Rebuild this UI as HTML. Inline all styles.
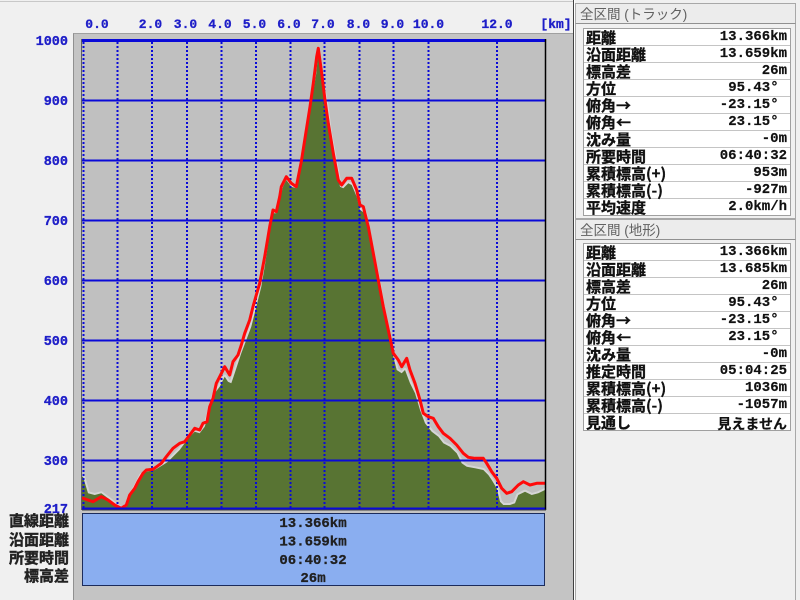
<!DOCTYPE html>
<html><head><meta charset="utf-8">
<style>
html,body{margin:0;padding:0;}
body{width:800px;height:600px;overflow:hidden;background:#f0f0f0;position:relative;font-family:"Liberation Sans","Noto Sans CJK JP",sans-serif;}
.abs{position:absolute;}
.lbl{position:absolute;right:731px;font:bold 15px "Noto Sans CJK JP","Liberation Sans",sans-serif;color:#222;line-height:18px;white-space:nowrap;text-align:right;-webkit-text-stroke:0.4px #222;}
.hdr{position:absolute;left:575px;width:221px;height:21px;border:1px solid #a8a8a8;border-bottom:1px solid #909090;background:#ececec;font:13.5px "Liberation Sans","Noto Sans CJK JP",sans-serif;color:#606060;line-height:21px;padding-left:4px;box-sizing:border-box;white-space:nowrap;}
.body{position:absolute;left:575px;width:221px;border:1px solid #a8a8a8;border-top:none;box-sizing:border-box;}
.tbl{position:absolute;left:583px;width:208px;border:1px solid #a0a0a0;background:#fff;box-sizing:border-box;}
.row{height:17px;border-bottom:1px solid #c4c4c4;position:relative;box-sizing:border-box;}
.row:last-child{border-bottom:none;height:16px;}
.l{position:absolute;left:2px;top:0;font:bold 15px "Noto Sans CJK JP","Liberation Sans",sans-serif;line-height:17px;color:#111;white-space:nowrap;-webkit-text-stroke:0.35px #111;}
.v{position:absolute;right:3px;top:0;font:bold 14px "Liberation Mono","Noto Sans CJK JP",monospace;line-height:17px;color:#111;white-space:pre;-webkit-text-stroke:0.2px #111;}
.vj{font:bold 14px "Noto Sans CJK JP","Liberation Sans",sans-serif;}
svg text{stroke-width:0.3px;}
</style></head><body>
<div class="abs" style="left:0;top:1px;width:573px;height:1px;background:#c8c8c8;"></div>
<div class="abs" style="left:73px;top:33px;width:500px;height:567px;background:#c4c4c4;border-left:1px solid #909090;border-top:1px solid #a0a0a0;box-sizing:border-box;"></div>
<svg class="abs" style="left:0;top:0" width="573" height="600" viewBox="0 0 573 600" xmlns="http://www.w3.org/2000/svg">
  <defs><clipPath id="pc"><rect x="82" y="39" width="463" height="471"/></clipPath></defs>
  <rect x="82" y="39" width="463" height="471" fill="#c0c0c0"/>
  <line x1="81.5" y1="39" x2="81.5" y2="510" stroke="#606060" stroke-width="1"/>
  <g clip-path="url(#pc)">
    <polygon fill="#587433" stroke="#d6d6d6" stroke-width="4" stroke-linejoin="round" points="83,476.7 88,493.3 94.7,495 101.3,493.3 108,498.3 116.3,505 121.3,508.3 126.3,506.7 129.7,496.7 136.3,485 141.3,475 146.3,471.7 154.7,470 163,465 168,461.7 174.7,455 179.7,450 184.7,443.3 189.7,436.7 194.7,431.7 199.7,433.3 204.7,426.7 208,416.7 211.3,403.3 214.7,393.3 219.7,386.7 224.7,376.7 228,381.7 231.3,383.3 234.7,373.3 238,363.3 241.3,353.3 246.3,340 251.3,326.7 254.7,313.3 258,300 261.3,286.7 264.7,266.7 269.7,233.3 273,213.3 276.3,213.3 279.7,200 283,186.7 286.3,180 291.3,186.7 296.3,188.3 301.3,166.7 306.3,136.7 311.3,103.3 316.3,73.3 318,55 321.7,80 326.7,106.7 330,133.3 335,160 340,186.7 343.3,188.3 348.3,183.3 351.7,185 356.7,196.7 360,210 365,213.3 368.3,230 373.3,256.7 378.3,280 383.3,310 388.3,333.3 393.3,356.7 396.7,370 401.7,373.3 405,370 410,383.3 415,393.3 420,410 425,423.3 431.7,431.7 438.3,436.7 443.3,443.3 450,446.7 456.7,453.3 461.7,463.3 466.7,466.7 475,468.3 483.3,470 488.3,475 491.7,480 496.7,488.3 500,501.7 503.3,505 510,505 515,503.3 518.3,495 525,491.7 531.7,495 538.3,493.3 545,490 547,490 547,515 80,515 80,476.7"/>
    <polygon fill="#587433" points="83,476.7 88,493.3 94.7,495 101.3,493.3 108,498.3 116.3,505 121.3,508.3 126.3,506.7 129.7,496.7 136.3,485 141.3,475 146.3,471.7 154.7,470 163,465 168,461.7 174.7,455 179.7,450 184.7,443.3 189.7,436.7 194.7,431.7 199.7,433.3 204.7,426.7 208,416.7 211.3,403.3 214.7,393.3 219.7,386.7 224.7,376.7 228,381.7 231.3,383.3 234.7,373.3 238,363.3 241.3,353.3 246.3,340 251.3,326.7 254.7,313.3 258,300 261.3,286.7 264.7,266.7 269.7,233.3 273,213.3 276.3,213.3 279.7,200 283,186.7 286.3,180 291.3,186.7 296.3,188.3 301.3,166.7 306.3,136.7 311.3,103.3 316.3,73.3 318,55 321.7,80 326.7,106.7 330,133.3 335,160 340,186.7 343.3,188.3 348.3,183.3 351.7,185 356.7,196.7 360,210 365,213.3 368.3,230 373.3,256.7 378.3,280 383.3,310 388.3,333.3 393.3,356.7 396.7,370 401.7,373.3 405,370 410,383.3 415,393.3 420,410 425,423.3 431.7,431.7 438.3,436.7 443.3,443.3 450,446.7 456.7,453.3 461.7,463.3 466.7,466.7 475,468.3 483.3,470 488.3,475 491.7,480 496.7,488.3 500,501.7 503.3,505 510,505 515,503.3 518.3,495 525,491.7 531.7,495 538.3,493.3 545,490 547,490 547,515 80,515 80,476.7"/>
    <g stroke="#0a0ad8" stroke-width="2">
      <line x1="82" y1="100.5" x2="545" y2="100.5"/>
      <line x1="82" y1="160.5" x2="545" y2="160.5"/>
      <line x1="82" y1="220.5" x2="545" y2="220.5"/>
      <line x1="82" y1="280.5" x2="545" y2="280.5"/>
      <line x1="82" y1="340.5" x2="545" y2="340.5"/>
      <line x1="82" y1="400.5" x2="545" y2="400.5"/>
      <line x1="82" y1="460.5" x2="545" y2="460.5"/>
    </g>
    <g stroke="#0a0ad8" stroke-width="2" stroke-dasharray="2 2">
      <line x1="83.5" y1="42" x2="83.5" y2="509"/>
      <line x1="117.5" y1="42" x2="117.5" y2="509"/>
      <line x1="152" y1="42" x2="152" y2="509"/>
      <line x1="187" y1="42" x2="187" y2="509"/>
      <line x1="221.5" y1="42" x2="221.5" y2="509"/>
      <line x1="256" y1="42" x2="256" y2="509"/>
      <line x1="290.5" y1="42" x2="290.5" y2="509"/>
      <line x1="324.5" y1="42" x2="324.5" y2="509"/>
      <line x1="359.5" y1="42" x2="359.5" y2="509"/>
      <line x1="393.5" y1="42" x2="393.5" y2="509"/>
      <line x1="428.5" y1="42" x2="428.5" y2="509"/>
      <line x1="497" y1="42" x2="497" y2="509"/>
    </g>
    <polyline fill="none" stroke="#ff0a0a" stroke-width="3" stroke-linejoin="round" stroke-linecap="round" points="83,498.3 93,501.7 101.3,496.7 108,500 114.7,505 121.3,508.3 126.3,505 129.7,495 134.7,488.3 138,481.7 143,473.3 146.3,470 153,469.3 161.3,463.3 166.3,456.7 173,448.3 179.7,443.3 184.7,441.7 189.7,435 194.7,428.3 199.7,430 203,423.3 207,421.7 209.7,406.7 213,398.3 216.3,383.3 219.7,376.7 224.7,366.7 229.7,375 233,361.7 238,355 241.3,345 244.7,333.3 249.7,320 253,306.7 256.3,295 259.7,283.3 264.7,256.7 269.7,226.7 273,210 276.3,211.7 279.7,196.7 281.3,186.7 286.3,176.7 291.3,183.3 296.3,186.7 301.3,161.7 306.3,130 310,106.7 313.3,83.3 316.7,56.7 318.3,48.3 321.7,73.3 325,100 328.3,123.3 333.3,153.3 338.3,180 341.7,185 346.7,178.3 351.7,178.3 356.7,190 360,205 363.3,206.7 368.3,226.7 373.3,253.3 378.3,280 383.3,306.7 388.3,330 393.3,353.3 398.3,360 401.7,366.7 406.7,358.3 410,370 415,383.3 420,400 423.3,413.3 428.3,416.7 433.3,418.3 438.3,426.7 443.3,433.3 450,438.3 456.7,445 463.3,453.3 468.3,457.3 475,458.3 483.3,458.3 486.7,463.3 491.7,471.7 496.7,478.3 501.7,488.3 506.7,493.3 511.7,491.7 518.3,485 523.3,481.7 530,485 536.7,483.3 545,483.3"/>
  </g>
  <line x1="82" y1="40.5" x2="545" y2="40.5" stroke="#0a0ad8" stroke-width="3"/>
  <line x1="82" y1="508.5" x2="545" y2="508.5" stroke="#0a0ad8" stroke-width="2"/>
  <line x1="545.5" y1="39" x2="545.5" y2="510" stroke="#000" stroke-width="1.5"/>
  <line x1="82" y1="510" x2="546" y2="510" stroke="#404040" stroke-width="1"/>
  <g font-family="Liberation Mono, monospace" font-weight="bold" font-size="13" fill="#1e1ec8" stroke="#1e1ec8" text-anchor="middle">
    <text x="97" y="28">0.0</text>
    <text x="150.5" y="28">2.0</text>
    <text x="185.5" y="28">3.0</text>
    <text x="220" y="28">4.0</text>
    <text x="254.5" y="28">5.0</text>
    <text x="289" y="28">6.0</text>
    <text x="323" y="28">7.0</text>
    <text x="358.5" y="28">8.0</text>
    <text x="392.5" y="28">9.0</text>
    <text x="428.5" y="28">10.0</text>
    <text x="497" y="28">12.0</text>
    <text x="556" y="28">[km]</text>
  </g>
  <g font-family="Liberation Mono, monospace" font-weight="bold" font-size="13.5" fill="#1e1ec8" stroke="#1e1ec8" text-anchor="end">
    <text x="68" y="45">1000</text>
    <text x="68" y="105">900</text>
    <text x="68" y="165">800</text>
    <text x="68" y="225">700</text>
    <text x="68" y="285">600</text>
    <text x="68" y="345">500</text>
    <text x="68" y="405">400</text>
    <text x="68" y="465">300</text>
    <text x="68" y="513">217</text>
  </g>
  <rect x="82.5" y="513.5" width="462" height="72" fill="#8aaef0" stroke="#1c2c5c" stroke-width="1"/>
  <g font-family="Liberation Mono, monospace" font-weight="bold" font-size="14" fill="#202020" stroke="#202020" text-anchor="middle">
    <text x="313" y="527">13.366km</text>
    <text x="313" y="545.5">13.659km</text>
    <text x="313" y="564">06:40:32</text>
    <text x="313" y="582">26m</text>
  </g>
</svg>
<div class="lbl" style="top:512px;">直線距離</div>
<div class="lbl" style="top:531px;">沿面距離</div>
<div class="lbl" style="top:548.5px;">所要時間</div>
<div class="lbl" style="top:567px;">標高差</div>

<div class="abs" style="left:573px;top:0;width:1px;height:600px;background:#404040;"></div>
<div class="abs" style="left:574px;top:0;width:1px;height:600px;background:#ffffff;"></div>

<div class="hdr" style="top:3px;">全区間 (トラック)</div>
<div class="body" style="top:24px;height:195px;"></div>
<div class="tbl" style="top:28px;">
  <div class="row"><span class="l">距離</span><span class="v">13.366km</span></div>
  <div class="row"><span class="l">沿面距離</span><span class="v">13.659km</span></div>
  <div class="row"><span class="l">標高差</span><span class="v">26m</span></div>
  <div class="row"><span class="l">方位</span><span class="v">95.43° </span></div>
  <div class="row"><span class="l">俯角→</span><span class="v">-23.15° </span></div>
  <div class="row"><span class="l">俯角←</span><span class="v">23.15° </span></div>
  <div class="row"><span class="l">沈み量</span><span class="v">-0m</span></div>
  <div class="row"><span class="l">所要時間</span><span class="v">06:40:32</span></div>
  <div class="row"><span class="l">累積標高(+)</span><span class="v">953m</span></div>
  <div class="row"><span class="l">累積標高(-)</span><span class="v">-927m</span></div>
  <div class="row"><span class="l">平均速度</span><span class="v">2.0km/h</span></div>
</div>

<div class="hdr" style="top:219px;">全区間 (地形)</div>
<div class="body" style="top:240px;height:360px;border-bottom:none;"></div>
<div class="tbl" style="top:243px;">
  <div class="row"><span class="l">距離</span><span class="v">13.366km</span></div>
  <div class="row"><span class="l">沿面距離</span><span class="v">13.685km</span></div>
  <div class="row"><span class="l">標高差</span><span class="v">26m</span></div>
  <div class="row"><span class="l">方位</span><span class="v">95.43° </span></div>
  <div class="row"><span class="l">俯角→</span><span class="v">-23.15° </span></div>
  <div class="row"><span class="l">俯角←</span><span class="v">23.15° </span></div>
  <div class="row"><span class="l">沈み量</span><span class="v">-0m</span></div>
  <div class="row"><span class="l">推定時間</span><span class="v">05:04:25</span></div>
  <div class="row"><span class="l">累積標高(+)</span><span class="v">1036m</span></div>
  <div class="row"><span class="l">累積標高(-)</span><span class="v">-1057m</span></div>
  <div class="row"><span class="l">見通し</span><span class="v vj">見えません</span></div>
</div>
</body></html>
